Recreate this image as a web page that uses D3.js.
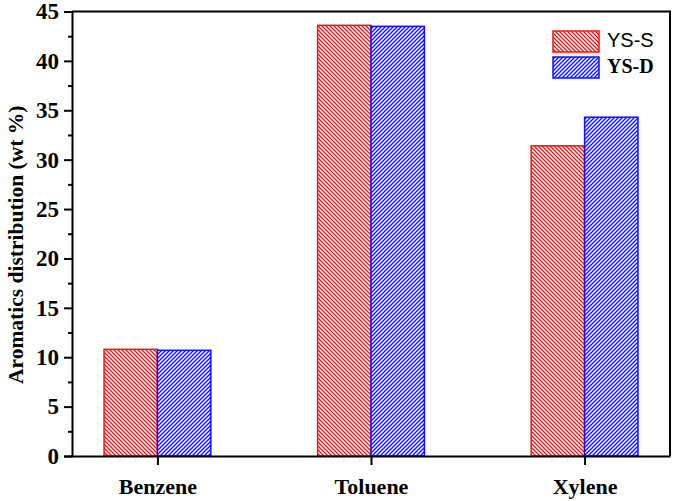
<!DOCTYPE html>
<html><head><meta charset="utf-8">
<script src="https://cdn.jsdelivr.net/npm/d3@7"></script>
<style>body{margin:0;background:#fff}</style>
</head><body>
<script>
const categories = ["Benzene", "Toluene", "Xylene"];
const seriesNames = ["YS-S", "YS-D"];
const ysS = [10.8, 43.6, 31.4];
const ysD = [10.7, 43.5, 34.3];
const yTicks = [0, 5, 10, 15, 20, 25, 30, 35, 40, 45];

const W = 675, H = 501;
const L = 72, R = 670, T = 11.5, B = 456;
const svg = d3.select("body").append("svg").attr("width", W).attr("height", H);

const colors = ["#ff1010", "#1010ff"];
const defs = svg.append("defs");
function hatch(id, color, dir) {
  const p = defs.append("pattern").attr("id", id).attr("patternUnits", "userSpaceOnUse")
    .attr("width", 4).attr("height", 4);
  p.append("rect").attr("width", 4).attr("height", 4).attr("fill", "#fff");
  const d = dir === "back" ? "M-1,-1 L5,5 M-1,3 L1,5 M3,-1 L5,1" : "M-1,5 L5,-1 M-1,1 L1,-1 M3,5 L5,3";
  p.append("path").attr("d", d).attr("stroke", color).attr("stroke-width", 1.3).attr("fill", "none");
}
hatch("hS", colors[0], "back");
hatch("hD", colors[1], "fwd");
const fills = ["url(#hS)", "url(#hD)"];

const x = d3.scaleLinear().domain([0.6, 3.4]).range([L, R]);
const y = d3.scaleLinear().domain([0, 45]).range([B, T]);
const bw = 0.25;

const series = [ysS, ysD];
series.forEach((vals, s) => {
  svg.append("g").selectAll("rect").data(vals).join("rect")
    .attr("x", (d, i) => x(i + 1 + (s === 0 ? -bw : 0)))
    .attr("width", x(bw) - x(0))
    .attr("y", d => y(d))
    .attr("height", d => y(0) - y(d))
    .attr("fill", fills[s])
    .attr("stroke", colors[s]).attr("stroke-width", 1.5);
});

const font = "'Liberation Serif', 'Times New Roman', serif";

// Y axis
const yAxis = svg.append("g").attr("transform", `translate(${L},0)`)
  .call(d3.axisLeft(y).tickValues(yTicks).tickSize(8).tickPadding(5));
yAxis.select(".domain").attr("stroke-width", 2);
yAxis.selectAll(".tick line").attr("stroke-width", 2);
yAxis.selectAll("text").attr("font-family", font).attr("font-weight", "bold").attr("font-size", 23).attr("fill", "#000");
const minor = d3.range(2.5, 45, 5);
svg.append("g").attr("transform", `translate(${L},0)`)
  .call(d3.axisLeft(y).tickValues(minor).tickSize(4).tickFormat(""))
  .call(g => g.select(".domain").remove())
  .selectAll(".tick line").attr("stroke-width", 2);

// X axis
const xAxis = svg.append("g").attr("transform", `translate(0,${B})`)
  .call(d3.axisBottom(x).tickValues([1, 2, 3]).tickFormat((d) => categories[d - 1]).tickSize(9).tickPadding(13).tickSizeOuter(0));
xAxis.select(".domain").attr("stroke-width", 2);
xAxis.selectAll(".tick line").attr("stroke-width", 2);
xAxis.selectAll("text").attr("font-family", font).attr("font-weight", "bold").attr("font-size", 22).attr("fill", "#000");

// Frame top/right
svg.append("path").attr("d", `M${L},${T}H${R}V${B}`).attr("fill", "none").attr("stroke", "#000").attr("stroke-width", 2);

// Y label
svg.append("text").attr("transform", `translate(23,${(T + B) / 2 + 11}) rotate(-90)`)
  .attr("text-anchor", "middle").attr("font-family", font).attr("font-weight", "bold").attr("font-size", 21.5)
  .text("Aromatics distribution (wt %)");

// Legend
const lg = svg.append("g");
const legTops = [31, 57];
seriesNames.forEach((n, s) => {
  lg.append("rect").attr("x", 553).attr("y", legTops[s]).attr("width", 46).attr("height", 21)
    .attr("fill", fills[s]).attr("stroke", colors[s]).attr("stroke-width", 1.5);
  lg.append("text").attr("x", 607).attr("y", legTops[s] + 16)
    .attr("font-family", s === 0 ? "'Liberation Sans', Arial, sans-serif" : font)
    .attr("font-weight", s === 0 ? "normal" : "bold")
    .attr("font-size", 20).text(n);
});
</script>
</body></html>
